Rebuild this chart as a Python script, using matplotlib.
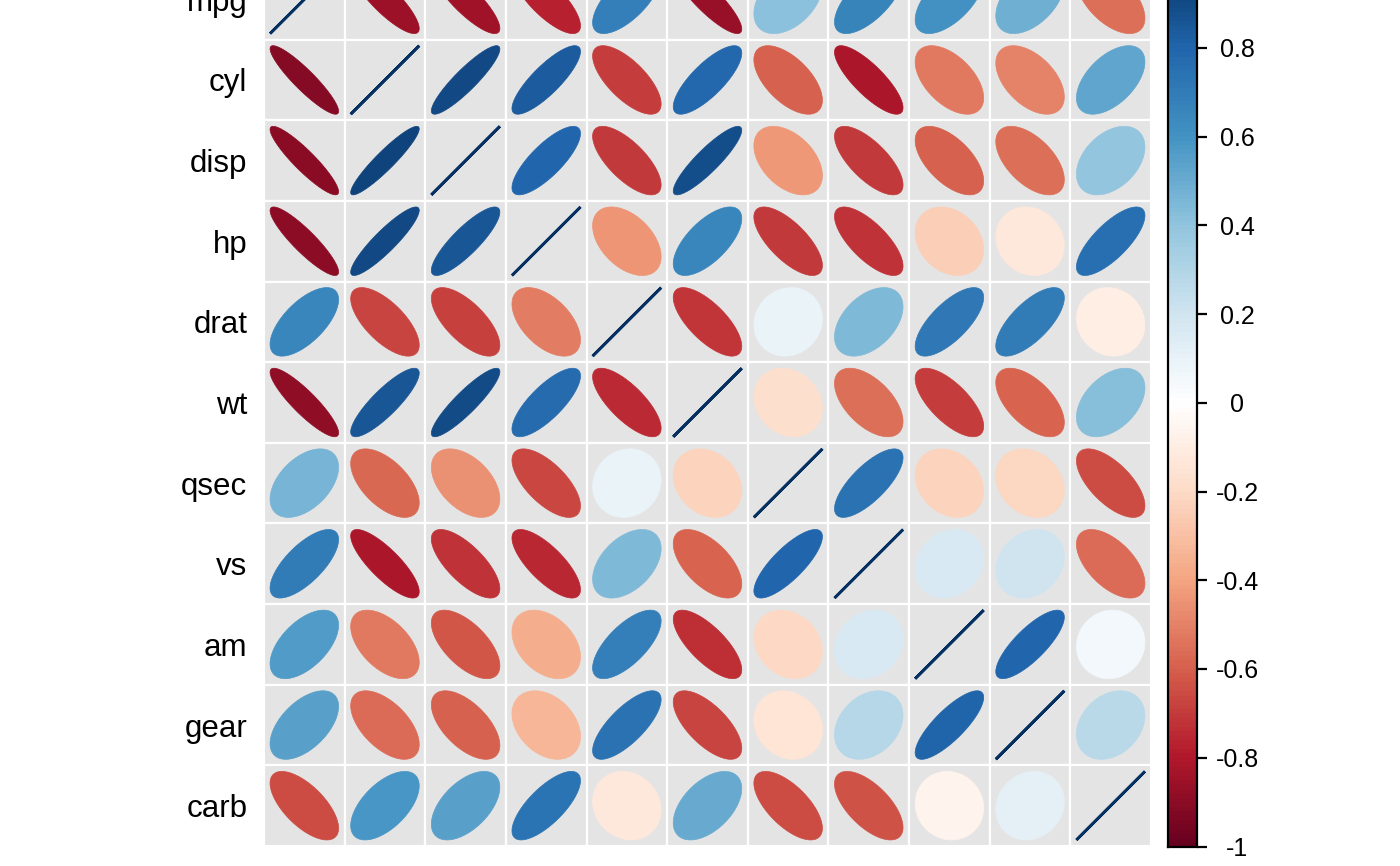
import numpy as np
import matplotlib
matplotlib.use('Agg')
import matplotlib.pyplot as plt
from matplotlib.colors import LinearSegmentedColormap, Normalize
from matplotlib.patches import Rectangle, Polygon
from matplotlib.cm import ScalarMappable

plt.rcParams['font.family'] = ['Liberation Sans', 'DejaVu Sans']

# variables (rows top to bottom, columns left to right)
labels = ['mpg', 'cyl', 'disp', 'hp', 'drat', 'wt', 'qsec', 'vs', 'am', 'gear', 'carb']

# upper triangle: Pearson correlations
pearson = [
    [1.000, -0.852, -0.848, -0.776, 0.681, -0.868, 0.419, 0.664, 0.600, 0.480, -0.551],
    [-0.852, 1.000, 0.902, 0.832, -0.700, 0.782, -0.591, -0.811, -0.523, -0.493, 0.527],
    [-0.848, 0.902, 1.000, 0.791, -0.710, 0.888, -0.434, -0.710, -0.591, -0.556, 0.395],
    [-0.776, 0.832, 0.791, 1.000, -0.449, 0.659, -0.708, -0.723, -0.243, -0.126, 0.750],
    [0.681, -0.700, -0.710, -0.449, 1.000, -0.712, 0.091, 0.440, 0.713, 0.700, -0.091],
    [-0.868, 0.782, 0.888, 0.659, -0.712, 1.000, -0.175, -0.555, -0.692, -0.583, 0.428],
    [0.419, -0.591, -0.434, -0.708, 0.091, -0.175, 1.000, 0.745, -0.230, -0.213, -0.656],
    [0.664, -0.811, -0.710, -0.723, 0.440, -0.555, 0.745, 1.000, 0.168, 0.206, -0.570],
    [0.600, -0.523, -0.591, -0.243, 0.713, -0.692, -0.230, 0.168, 1.000, 0.794, 0.058],
    [0.480, -0.493, -0.556, -0.126, 0.700, -0.583, -0.213, 0.206, 0.794, 1.000, 0.274],
    [-0.551, 0.527, 0.395, 0.750, -0.091, 0.428, -0.656, -0.570, 0.058, 0.274, 1.000],
]

# lower triangle: Spearman correlations
spearman = [
    [1.000, -0.911, -0.909, -0.895, 0.651, -0.886, 0.467, 0.707, 0.562, 0.543, -0.657],
    [-0.911, 1.000, 0.928, 0.902, -0.679, 0.858, -0.572, -0.814, -0.522, -0.564, 0.580],
    [-0.909, 0.928, 1.000, 0.851, -0.684, 0.898, -0.460, -0.724, -0.624, -0.594, 0.540],
    [-0.895, 0.902, 0.851, 1.000, -0.520, 0.775, -0.667, -0.752, -0.362, -0.331, 0.733],
    [0.651, -0.679, -0.684, -0.520, 1.000, -0.750, 0.092, 0.447, 0.687, 0.745, -0.125],
    [-0.886, 0.858, 0.898, 0.775, -0.750, 1.000, -0.225, -0.587, -0.738, -0.676, 0.500],
    [0.467, -0.572, -0.460, -0.667, 0.092, -0.225, 1.000, 0.792, -0.203, -0.148, -0.658],
    [0.707, -0.814, -0.724, -0.752, 0.447, -0.587, 0.792, 1.000, 0.168, 0.283, -0.634],
    [0.562, -0.522, -0.624, -0.362, 0.687, -0.738, -0.203, 0.168, 1.000, 0.808, -0.064],
    [0.543, -0.564, -0.594, -0.331, 0.745, -0.676, -0.148, 0.283, 0.808, 1.000, 0.115],
    [-0.657, 0.580, 0.540, 0.733, -0.125, 0.500, -0.658, -0.634, -0.064, 0.115, 1.000],
]

cbar_ticks = [-1, -0.8, -0.6, -0.4, -0.2, 0, 0.2, 0.4, 0.6, 0.8, 1]
cbar_labels = ['-1', '-0.8', '-0.6', '-0.4', '-0.2', '0', '0.2', '0.4', '0.6', '0.8', '1']

P = np.array(pearson)
S = np.array(spearman)
n = len(labels)
corr = np.where(np.triu(np.ones((n, n), dtype=bool)), P, S)

# RdBu palette as used by corrplot
cmap = LinearSegmentedColormap.from_list(
    'corr_rdbu',
    ['#67001F', '#B2182B', '#D6604D', '#F4A582', '#FDDBC7', '#FFFFFF',
     '#D1E5F0', '#92C5DE', '#4393C3', '#2166AC', '#053061'], N=200)
norm = Normalize(-1, 1)

W, H = 1400, 866
fig = plt.figure(figsize=(W / 100, H / 100), dpi=100)

# grid extends past the top of the figure (top row is cut off)
ax = fig.add_axes([264 / W, 20 / H, 887 / W, 887 / H])
t = np.linspace(0, 2 * np.pi, 99)
for i in range(n):
    for j in range(n):
        r = corr[i, j]
        y0 = n - 1 - i
        ax.add_patch(Rectangle((j, y0), 1, 1, facecolor='#e4e4e4',
                               edgecolor='white', lw=1.6))
        d = np.arccos(np.clip(r, -1, 1)) / 2
        xs = j + 0.5 + 0.85 * np.cos(t + d) / 2
        ys = y0 + 0.5 + 0.85 * np.cos(t - d) / 2
        c = cmap(norm(r))
        ax.add_patch(Polygon(np.column_stack([xs, ys]), closed=True,
                             facecolor=c, edgecolor=c,
                             lw=2.0 if r > 0.999 else 0.5))

ax.set_xlim(0, n)
ax.set_ylim(0, n)
ax.set_xticks([])
ax.set_yticks(np.arange(n) + 0.5)
ax.set_yticklabels(labels[::-1])
ax.tick_params(axis='y', length=0, pad=12, labelsize=22.5)
for s in ax.spines.values():
    s.set_visible(False)

# colour legend
cax = fig.add_axes([1168 / W, 19.5 / H, 29 / W, 887.5 / H])
cb = fig.colorbar(ScalarMappable(norm=norm, cmap=cmap), cax=cax, ticks=cbar_ticks)
cb.ax.set_yticklabels(cbar_labels)
cb.outline.set_linewidth(1.6)
cb.outline.set_edgecolor('black')
cax.tick_params(axis='y', length=7, width=1.6, pad=22, labelsize=18)
plt.setp(cax.get_yticklabels(), ha='center')

fig.savefig('out.png', dpi=100)
